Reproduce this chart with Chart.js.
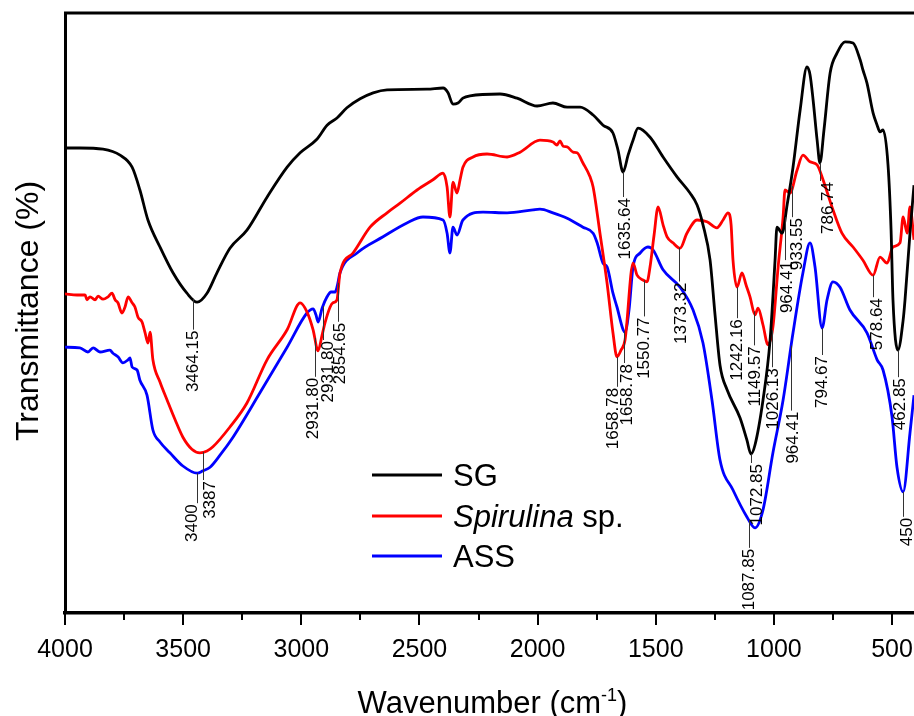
<!DOCTYPE html>
<html>
<head>
<meta charset="utf-8">
<script src="https://cdn.jsdelivr.net/npm/chart.js@4.4.1/dist/chart.umd.min.js"></script>
<style>
  html, body { margin: 0; padding: 0; background: #fff; overflow: hidden; }
  canvas { display: block; }
</style>
</head>
<body>
<canvas id="ftir" width="914" height="716"></canvas>
<script>
// FTIR spectra (wavenumber in cm-1, transmittance in arbitrary %)
const sgWave = [4000,3937,3839,3767,3716,3683,3649,3598,3543,3484,3441,3399,3357,3302,3230,3145,3060,3005,2933,2891,2849,2807,2751,2696,2637,2468,2400,2379,2358,2337,2316,2286,2159,2087,2002,1935,1875,1820,1765,1723,1681,1660,1638,1617,1596,1575,1524,1469,1410,1355,1325,1300,1270,1249,1228,1198,1143,1114,1097,1080,1046,1016,995,987,965,944,919,889,860,847,834,817,805,788,762,733,699,665,635,623,606,580,563,551,538,517,504,496,475,453,445,424,407];
const sgT = [77.5,77.5,77.3,76.3,74.3,70.5,65.5,61.0,56.7,53.3,51.8,53.3,56.7,60.8,63.8,69.3,74.3,76.7,79.0,81.3,82.5,84.2,85.7,86.7,87.2,87.3,87.5,86.7,84.8,85.0,85.8,86.2,86.5,85.8,84.5,85.0,84.3,84.3,83.0,81.3,80.0,77.2,73.5,76.3,78.8,80.8,79.3,76.0,72.7,70.0,68.0,64.7,58.8,49.7,41.3,37.2,32.5,28.8,26.5,28.0,35.5,45.5,58.8,64.3,63.3,68.0,74.3,83.8,91.0,89.7,85.5,78.8,75.0,80.5,90.0,93.3,95.2,95.0,92.2,90.5,88.3,83.3,81.3,80.2,80.5,74.7,63.8,52.2,43.8,48.8,52.2,63.3,71.3];

const spWave = [4000,3949,3915,3907,3894,3873,3860,3839,3818,3801,3788,3776,3759,3746,3733,3716,3704,3691,3674,3661,3649,3640,3628,3598,3568,3534,3501,3463,3429,3399,3374,3302,3230,3145,3060,3005,2976,2950,2929,2912,2900,2878,2866,2849,2836,2781,2709,2637,2582,2510,2443,2400,2383,2371,2358,2341,2328,2316,2273,2214,2129,2074,1990,1935,1918,1905,1892,1875,1850,1833,1808,1778,1765,1736,1706,1681,1664,1647,1630,1596,1579,1554,1537,1524,1507,1490,1469,1452,1427,1397,1368,1325,1283,1241,1215,1194,1181,1173,1156,1135,1118,1101,1080,1067,1046,1025,1004,982,961,953,932,902,877,847,817,792,750,712,665,623,580,551,521,496,466,453,436,424,407];
const spT = [53.2,53.0,53.0,52.2,52.7,52.2,52.8,52.3,52.7,53.3,52.2,51.7,50.0,51.0,52.7,51.7,51.0,49.3,48.5,46.7,45.0,46.8,42.2,38.5,35.5,32.2,29.3,27.3,26.7,27.0,27.7,31.0,35.0,42.2,47.2,51.7,50.2,47.2,43.7,46.3,48.3,51.0,51.7,52.2,56.7,60.0,64.3,66.7,68.3,70.5,72.2,73.3,71.0,66.0,71.8,70.0,72.2,74.3,76.0,76.5,76.0,76.8,78.8,78.5,78.0,78.7,77.8,77.7,76.8,76.7,75.0,72.7,71.0,63.3,55.0,46.7,42.7,43.8,45.5,58.3,56.3,55.5,55.2,57.7,63.0,67.7,64.7,62.7,61.7,60.8,63.3,65.5,65.2,64.2,65.5,66.7,64.7,58.8,54.3,56.7,54.7,52.7,49.7,50.8,48.0,44.7,47.7,57.7,66.0,70.5,70.0,73.8,76.3,75.2,74.7,72.2,67.2,63.3,61.0,58.8,56.3,59.3,58.3,61.0,61.7,66.0,63.3,67.7,62.2];

const assWave = [4000,3937,3903,3881,3852,3810,3797,3776,3755,3733,3725,3716,3695,3683,3653,3628,3598,3556,3501,3441,3416,3386,3344,3289,3175,3060,2976,2950,2938,2929,2912,2891,2874,2857,2849,2836,2764,2654,2553,2485,2400,2383,2371,2358,2341,2316,2231,2129,2019,1990,1935,1875,1808,1765,1748,1723,1706,1681,1664,1638,1630,1613,1596,1566,1533,1511,1469,1397,1342,1300,1262,1228,1173,1114,1080,1046,1004,961,919,877,847,826,796,775,750,720,678,606,563,538,500,479,453,424,407];
const assT = [44.3,44.2,43.5,44.2,43.5,43.8,43.3,42.7,41.7,42.2,42.5,41.0,40.5,38.8,36.3,30.5,28.5,26.7,24.5,23.3,23.7,24.3,26.3,29.3,36.7,44.3,50.0,50.7,49.7,48.5,50.8,52.7,53.5,53.5,54.3,56.7,60.0,62.7,65.0,66.0,65.5,63.3,60.0,64.3,63.0,65.5,66.8,66.7,67.2,67.3,66.7,65.8,64.3,63.3,61.7,58.3,57.7,53.3,51.0,47.2,46.8,50.5,57.7,60.0,61.0,60.5,57.2,54.3,50.5,45.0,35.5,25.5,20.5,16.0,14.2,17.2,26.7,35.5,46.7,56.7,61.7,57.7,47.5,52.2,55.2,54.3,50.5,46.7,42.2,40.5,32.7,24.3,20.2,30.0,36.3];

const seriesNames = ['SG', 'Spirulina sp.', 'ASS'];
const italicPart = ['', 'Spirulina', ''];
const majorTicks = [4000, 3500, 3000, 2500, 2000, 1500, 1000, 500];
const minorTicks = [3750, 3250, 2750, 2250, 1750, 1250, 750];

// peak labels: text, wavenumber where the leader sits, which series it belongs to
const peakText = ['3464.15','3387','3400','2931.80','2931.80','2854.65','1635.64','1658.78','1658.78','1550.77','1373.32','1242.16','1149.57','1026.13','1072.85','1087.85','964.41','933.55','964.41','794.67','786.74','578.64','462.85','450'];
const peakWave = [3458,3416,3441,2942,2908,2845,1638,1664,1634,1550,1401,1156,1084,1008,1097,1105,953,923,927,796,805,580,475,453];
const peakSeries = [0,1,2,1,2,2,0,1,2,1,1,1,1,1,0,2,0,1,2,2,0,1,0,2];

// leader lengths / label nudges (px)
const leaderLen = [31,28,30,39,34,39,25,30,32,36,34,31,34,37,9,28,43,31,65,27,18,22,27,25];
const labelShift = [0,7,-5,-2,5,2,2,-4,3,0,2,0,1,1,6,0,2,5,2,0,8,4,2,4];

const FONT = '"Liberation Sans", Arial, Helvetica, sans-serif';
const colors = ['#000000', '#ff0000', '#0000ff'];
const waves = [sgWave, spWave, assWave];
const trans = [sgT, spT, assT];

function valueAt(ws, vs, w) {
  for (let i = 0; i < ws.length - 1; i++) {
    if (w <= ws[i] && w >= ws[i + 1]) {
      const t = (ws[i] - w) / (ws[i] - ws[i + 1]);
      return vs[i] + (vs[i + 1] - vs[i]) * t;
    }
  }
  return vs[vs.length - 1];
}

const decor = {
  id: 'decor',
  afterDatasetsDraw(chart) {
    const ctx = chart.ctx;
    const xs = chart.scales.x, ys = chart.scales.y;
    ctx.save();
    ctx.strokeStyle = '#333';
    ctx.lineWidth = 1;
    ctx.fillStyle = '#000';
    ctx.font = '17px ' + FONT;
    peakText.forEach((txt, i) => {
      const s = peakSeries[i];
      const px = Math.round(xs.getPixelForValue(peakWave[i])) + 0.5;
      const py = ys.getPixelForValue(valueAt(waves[s], trans[s], peakWave[i]));
      const end = py + leaderLen[i];
      ctx.beginPath();
      ctx.moveTo(px, py);
      ctx.lineTo(px, end);
      ctx.stroke();
      ctx.save();
      ctx.translate(px + labelShift[i], end + 1);
      ctx.rotate(-Math.PI / 2);
      ctx.textAlign = 'right';
      ctx.textBaseline = 'middle';
      ctx.fillText(txt, 0, 0);
      ctx.restore();
    });
    ctx.restore();
  },
  afterDraw(chart) {
    const ctx = chart.ctx;
    const a = chart.chartArea;
    const xs = chart.scales.x;
    ctx.save();
    // top frame line
    ctx.strokeStyle = '#000';
    ctx.lineWidth = 3;
    ctx.beginPath();
    ctx.moveTo(a.left - 1, a.top);
    ctx.lineTo(a.right, a.top);
    ctx.stroke();
    // tick marks
    ctx.lineWidth = 2;
    majorTicks.forEach(v => {
      const x = Math.round(xs.getPixelForValue(v));
      ctx.beginPath(); ctx.moveTo(x, a.bottom); ctx.lineTo(x, a.bottom + 12); ctx.stroke();
    });
    minorTicks.forEach(v => {
      const x = Math.round(xs.getPixelForValue(v));
      ctx.beginPath(); ctx.moveTo(x, a.bottom); ctx.lineTo(x, a.bottom + 7); ctx.stroke();
    });
    // legend
    const rows = [475, 516, 556];
    seriesNames.forEach((name, i) => {
      ctx.strokeStyle = colors[i];
      ctx.lineWidth = 3;
      ctx.beginPath(); ctx.moveTo(372, rows[i]); ctx.lineTo(442, rows[i]); ctx.stroke();
      ctx.fillStyle = '#000';
      ctx.textBaseline = 'alphabetic';
      ctx.textAlign = 'left';
      let x = 453;
      const base = rows[i] + 11;
      if (italicPart[i]) {
        ctx.font = 'italic 31px ' + FONT;
        ctx.fillText(italicPart[i], x, base);
        x += ctx.measureText(italicPart[i]).width;
      }
      ctx.font = '31px ' + FONT;
      ctx.fillText(name.slice(italicPart[i].length), x, base);
    });
    // y title
    ctx.fillStyle = '#000';
    ctx.save();
    ctx.translate(38, (a.top + a.bottom) / 2 - 2);
    ctx.rotate(-Math.PI / 2);
    ctx.font = '32px ' + FONT;
    ctx.textAlign = 'center';
    ctx.textBaseline = 'alphabetic';
    ctx.fillText('Transmittance (%)', 0, 0);
    ctx.restore();
    // x title with superscript
    const p1 = 'Wavenumber (cm', sup = '-1', p2 = ')';
    ctx.font = '31px ' + FONT;
    const w1 = ctx.measureText(p1).width, w3 = ctx.measureText(p2).width;
    ctx.font = '18px ' + FONT;
    const w2 = ctx.measureText(sup).width;
    let tx = (a.left + a.right) / 2 + 3 - (w1 + w2 + w3) / 2;
    const ty = 713;
    ctx.textAlign = 'left';
    ctx.font = '31px ' + FONT;
    ctx.fillText(p1, tx, ty); tx += w1;
    ctx.font = '18px ' + FONT;
    ctx.fillText(sup, tx, ty - 12); tx += w2;
    ctx.font = '31px ' + FONT;
    ctx.fillText(p2, tx, ty);
    ctx.restore();
  }
};

new Chart(document.getElementById('ftir'), {
  type: 'line',
  data: {
    datasets: seriesNames.map((name, i) => ({
      label: name,
      data: waves[i].map((w, j) => ({ x: w, y: trans[i][j] })),
      borderColor: colors[i],
      backgroundColor: colors[i],
      borderWidth: 2.8,
      pointRadius: 0,
      cubicInterpolationMode: 'monotone',
      fill: false
    }))
  },
  options: {
    responsive: false,
    animation: false,
    devicePixelRatio: 1,
    layout: { padding: { top: 13, left: 0, right: 0, bottom: 0 } },
    plugins: { legend: { display: false }, tooltip: { enabled: false } },
    scales: {
      x: {
        type: 'linear',
        reverse: true,
        min: 407,
        max: 4000,
        grid: { display: false, drawTicks: false },
        border: { display: true, color: '#000', width: 3.5 },
        ticks: {
          color: '#000',
          font: { family: FONT, size: 25 },
          padding: 22,
          maxRotation: 0,
          autoSkip: false,
          callback: v => String(v)
        },
        afterBuildTicks: s => { s.ticks = majorTicks.map(v => ({ value: v })); },
        afterFit: s => { s.height = 103; s.paddingLeft = 0; s.paddingRight = 0; }
      },
      y: {
        min: 0,
        max: 100,
        grid: { display: false, drawTicks: false },
        border: { display: true, color: '#000', width: 3 },
        ticks: { display: false },
        afterFit: s => { s.width = 65; }
      }
    }
  },
  plugins: [decor]
});
</script>
</body>
</html>
